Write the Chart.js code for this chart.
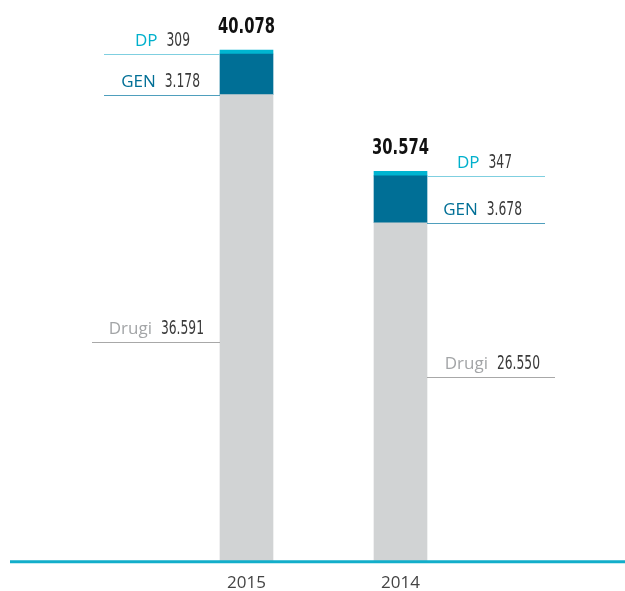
<!DOCTYPE html>
<html>
<head>
<meta charset="utf-8">
<title>Drugi / GEN / DP</title>
<script src="https://cdn.jsdelivr.net/npm/chart.js@4/dist/chart.umd.min.js"></script>
<style>
  html, body { margin: 0; padding: 0; background: #fff; }
  canvas { display: block; }
</style>
</head>
<body>
<canvas id="chart" width="625" height="591"></canvas>
<script>
const years = ['2015', '2014'];
const drugi = [36591, 26550];
const gen = [3178, 3678];
const dp = [309, 347];
const totals = [40078, 30574];

const COLORS = {
  drugi: '#d1d3d4',
  gen: '#006f96',
  dp: '#00b5d1',
  axis: '#12aeca',
  text: '#3a3a3a'
};

// where the leader lines and labels sit, per year (dp, gen, drugi)
const labelLayout = [
  { side: 'left', lineLen: [116, 116, 128], textEnd: [-30, -20, -16], drugiY: 342.5 },
  { side: 'right', lineLen: [118, 118, 128], textEnd: [85, 95, 113], drugiY: 377.5 }
];
const seriesInfo = [
  { name: 'DP', values: dp, dataset: 2, color: '#00b0cc', line: '#7fcfe0' },
  { name: 'GEN', values: gen, dataset: 1, color: '#006f96', line: '#4f9fbd' },
  { name: 'Drugi', values: drugi, dataset: 0, color: '#a3a5a7', line: '#a8a8a8' }
];

const NARROW = '"Liberation Sans Narrow", "DejaVu Sans Condensed", sans-serif';

function fmt(v) {
  return String(v).replace(/\B(?=(\d{3})+(?!\d))/g, '.');
}

function drawScaled(ctx, text, x, y, font, color, scaleX, align) {
  ctx.save();
  ctx.font = font;
  ctx.fillStyle = color;
  ctx.textAlign = align;
  ctx.textBaseline = 'alphabetic';
  ctx.translate(x, y);
  ctx.scale(scaleX, 1);
  ctx.fillText(text, 0, 0);
  const w = ctx.measureText(text).width * scaleX;
  ctx.restore();
  return w;
}

const annotations = {
  id: 'annotations',
  afterDatasetsDraw(chart) {
    const ctx = chart.ctx;
    const area = chart.chartArea;

    years.forEach((year, i) => {
      const lay = labelLayout[i];
      const bottomBar = chart.getDatasetMeta(0).data[i];
      const topBar = chart.getDatasetMeta(2).data[i];
      const half = bottomBar.width / 2;
      const edge = lay.side === 'left' ? bottomBar.x - half : bottomBar.x + half;

      seriesInfo.forEach((s, k) => {
        const el = chart.getDatasetMeta(s.dataset).data[i];
        const lineY = s.name === 'Drugi' ? lay.drugiY : Math.round(el.base) + 0.5;
        const x0 = lay.side === 'left' ? edge - lay.lineLen[k] : edge;
        const x1 = lay.side === 'left' ? edge : edge + lay.lineLen[k];

        ctx.save();
        ctx.strokeStyle = s.line;
        ctx.lineWidth = 1;
        ctx.beginPath();
        ctx.moveTo(x0, lineY);
        ctx.lineTo(x1, lineY);
        ctx.stroke();
        ctx.restore();

        const textRight = edge + lay.textEnd[k];
        const baseY = lineY - 9;
        const numW = drawScaled(ctx, fmt(s.values[i]), textRight, baseY, '19px ' + NARROW, COLORS.text, 0.72, 'right');
        drawScaled(ctx, s.name, textRight - numW - 9, baseY, '17px "Open Sans", sans-serif', s.color, 1, 'right');
      });

      drawScaled(ctx, fmt(totals[i]), topBar.x, topBar.y - 17, 'bold 21px ' + NARROW, '#111111', 0.78, 'center');
    });

    // baseline
    ctx.save();
    ctx.strokeStyle = COLORS.axis;
    ctx.lineWidth = 3;
    ctx.beginPath();
    ctx.moveTo(10, area.bottom);
    ctx.lineTo(chart.width, area.bottom);
    ctx.stroke();
    ctx.restore();
  }
};

new Chart(document.getElementById('chart'), {
  type: 'bar',
  data: {
    labels: years,
    datasets: [
      { label: 'Drugi', data: drugi, backgroundColor: COLORS.drugi },
      { label: 'GEN', data: gen, backgroundColor: COLORS.gen },
      { label: 'DP', data: dp, backgroundColor: COLORS.dp }
    ]
  },
  options: {
    responsive: false,
    animation: false,
    layout: { padding: { left: 169.5, right: 147.5, top: 0, bottom: -14 } },
    datasets: { bar: { barThickness: 53 } },
    scales: {
      x: {
        stacked: true,
        grid: { display: false, drawTicks: false },
        border: { display: false },
        ticks: {
          color: '#444444',
          padding: 14,
          font: { family: '"Open Sans", sans-serif', size: 17, lineHeight: 0.9 }
        }
      },
      y: {
        stacked: true,
        display: false,
        min: 0,
        max: 44000
      }
    },
    plugins: {
      legend: { display: false },
      tooltip: { enabled: false }
    }
  },
  plugins: [annotations]
});
</script>
</body>
</html>
